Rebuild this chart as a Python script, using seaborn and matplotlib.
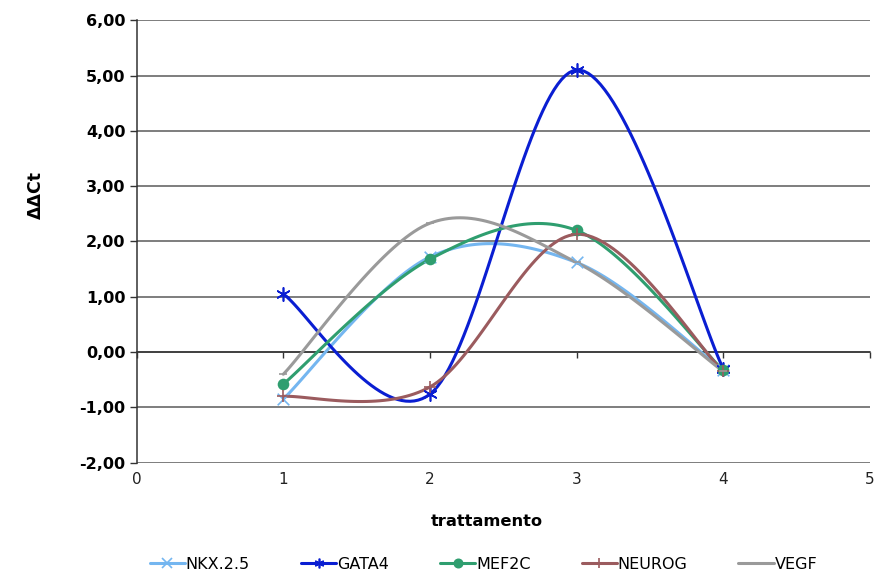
import numpy as np
import pandas as pd
import matplotlib
matplotlib.use("Agg")
import matplotlib.pyplot as plt
from matplotlib.lines import Line2D
import seaborn as sns

# Treatment steps and delta-delta Ct values per gene
trattamento = [1, 2, 3, 4]
nkx25 = [-0.85, 1.72, 1.62, -0.33]
gata4 = [1.05, -0.76, 5.10, -0.30]
mef2c = [-0.58, 1.68, 2.20, -0.33]
neurog = [-0.80, -0.63, 2.13, -0.35]
vegf = [-0.40, 2.33, 1.62, -0.35]

genes = ["NKX.2.5", "GATA4", "MEF2C", "NEUROG", "VEGF"]
values = [nkx25, gata4, mef2c, neurog, vegf]
colors = ["#74b6f0", "#0a1ed2", "#2f9e6f", "#9b5b5e", "#9a9a9a"]
markers = ["x", (6, 2, 0), "o", "+", "_"]
msizes = [70, 90, 70, 80, 40]

yticks = [-2, -1, 0, 1, 2, 3, 4, 5, 6]
xticks = [0, 1, 2, 3, 4, 5]


def smooth(x, y, n=40):
    """Bezier smoothing through every point (Catmull-Rom control points)."""
    x = np.asarray(x, float)
    y = np.asarray(y, float)
    px = np.concatenate([[x[0]], x, [x[-1]]])
    py = np.concatenate([[y[0]], y, [y[-1]]])
    xs, ys = [], []
    t = np.linspace(0, 1, n)
    for i in range(1, len(px) - 2):
        p0 = np.array([px[i], py[i]])
        p3 = np.array([px[i + 1], py[i + 1]])
        c1 = p0 + (np.array([px[i + 1], py[i + 1]]) - np.array([px[i - 1], py[i - 1]])) / 6
        c2 = p3 - (np.array([px[i + 2], py[i + 2]]) - np.array([px[i], py[i]])) / 6
        b = ((1 - t) ** 3)[:, None] * p0 + (3 * (1 - t) ** 2 * t)[:, None] * c1 \
            + (3 * (1 - t) * t ** 2)[:, None] * c2 + (t ** 3)[:, None] * p3
        xs.extend(b[:, 0])
        ys.extend(b[:, 1])
    return xs, ys


rows_curve = []
rows_pts = []
for g, v in zip(genes, values):
    sx, sy = smooth(trattamento, v)
    for a, b in zip(sx, sy):
        rows_curve.append({"gene": g, "x": a, "y": b})
    for a, b in zip(trattamento, v):
        rows_pts.append({"gene": g, "x": a, "y": b})
curve = pd.DataFrame(rows_curve)
pts = pd.DataFrame(rows_pts)

sns.set_theme(style="white")
plt.rcParams["font.family"] = ["DejaVu Sans"]
plt.rcParams["text.color"] = "black"
plt.rcParams["axes.labelcolor"] = "black"
plt.rcParams["xtick.color"] = "#222222"
plt.rcParams["ytick.color"] = "black"

fig = plt.figure(figsize=(8.76, 5.77), dpi=100)
ax = fig.add_axes([0.156, 0.198, 0.837, 0.767])

palette = dict(zip(genes, colors))
sns.lineplot(data=curve, x="x", y="y", hue="gene", palette=palette, sort=False,
             estimator=None, linewidth=2.2, legend=False, ax=ax, zorder=3)
for g, m, s in zip(genes, markers, msizes):
    sub = pts[pts["gene"] == g]
    sns.scatterplot(data=sub, x="x", y="y", color=palette[g], marker=m, s=s,
                    linewidth=1.2 if m != "o" else 0,
                    edgecolor=palette[g] if m == "o" else None,
                    ax=ax, zorder=4, legend=False)

ax.set_xlim(0, 5)
ax.set_ylim(-2, 6)
ax.set_yticks(yticks)
ax.set_yticklabels([f"{v:.2f}".replace(".", ",") for v in yticks],
                   fontweight="bold", fontsize=11.5)
ax.set_xticks(xticks)
ax.set_xticklabels([str(v) for v in xticks], fontsize=11)

ax.yaxis.grid(True, color="#5a5a5a", linewidth=1.1)
ax.xaxis.grid(False)
ax.set_axisbelow(True)
for side in ["top", "right"]:
    ax.spines[side].set_visible(False)
ax.spines["left"].set_color("#333333")
ax.spines["left"].set_linewidth(1.1)
ax.spines["bottom"].set_position(("data", 0))
ax.spines["bottom"].set_color("#333333")
ax.spines["bottom"].set_linewidth(1.1)
ax.tick_params(axis="y", direction="out", length=5, width=1, color="#333333",
               left=True, pad=3)
ax.tick_params(axis="x", direction="out", length=4, width=1, color="#333333",
               bottom=True, pad=82)

ax.set_xlabel("trattamento", fontweight="bold", fontsize=11.7)
ax.xaxis.set_label_coords(0.477, -0.115)
ax.set_ylabel("ΔΔCt", fontweight="bold", fontsize=12.5)
ax.yaxis.set_label_coords(-0.125, 0.605)

handles = [Line2D([0], [0], color=c, linewidth=2.2, marker=m,
                  markersize=7 if m != "o" else 6, markeredgewidth=1.2)
           for c, m in zip(colors, markers)]
fig.legend(handles, genes, loc="center", bbox_to_anchor=(0.552, 0.022),
           ncol=5, frameon=False, fontsize=11.5, handlelength=2.2,
           handletextpad=0.05, columnspacing=3.2)

fig.savefig("out.png", dpi=100)
